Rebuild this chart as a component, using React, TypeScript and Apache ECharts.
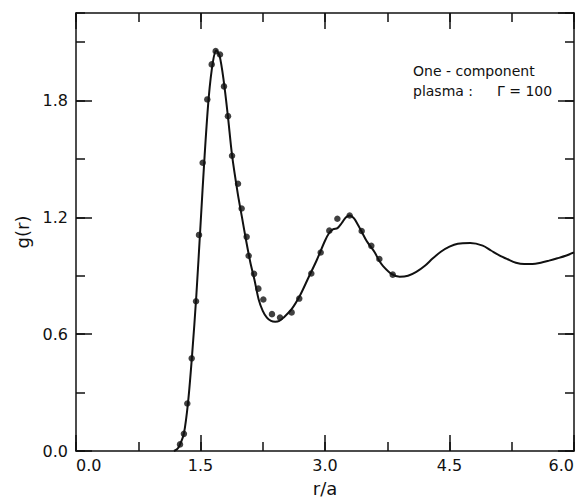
import React, { useEffect, useRef } from "react";
import * as echarts from "echarts";

const curveX = [1.18, 1.22, 1.25, 1.3, 1.35, 1.4, 1.45, 1.5, 1.55, 1.6, 1.65, 1.69, 1.73, 1.78, 1.83, 1.88, 1.95, 2.0, 2.05, 2.1, 2.15, 2.2, 2.25, 2.3, 2.35, 2.4, 2.45, 2.5, 2.6, 2.7, 2.8, 2.9, 3.0, 3.05, 3.1, 3.15, 3.2, 3.25, 3.3, 3.35, 3.4, 3.45, 3.5, 3.55, 3.6, 3.65, 3.7, 3.8, 3.9, 4.0, 4.1, 4.2, 4.3, 4.4, 4.5, 4.6, 4.75, 4.9, 5.0, 5.1, 5.2, 5.3, 5.4, 5.5, 5.6, 5.7, 5.8, 5.9, 6.0];
const curveY = [0.0, 0.01, 0.03, 0.09, 0.25, 0.5, 0.8, 1.16, 1.52, 1.82, 2.0, 2.057, 2.03, 1.9, 1.72, 1.52, 1.32, 1.2, 1.08, 0.97, 0.88, 0.78, 0.72, 0.685, 0.668, 0.664, 0.668, 0.685, 0.73, 0.8, 0.89, 0.98, 1.08, 1.12, 1.14, 1.145, 1.17, 1.2, 1.21, 1.195, 1.16, 1.12, 1.08, 1.05, 1.02, 0.98, 0.95, 0.91, 0.895, 0.9, 0.92, 0.95, 0.99, 1.025, 1.05, 1.065, 1.068, 1.055, 1.03, 1.005, 0.985, 0.967, 0.96, 0.96, 0.967, 0.978, 0.99, 1.003, 1.02];

const dotX = [1.253, 1.3, 1.341, 1.394, 1.446, 1.482, 1.526, 1.582, 1.635, 1.683, 1.735, 1.783, 1.831, 1.88, 1.952, 1.996, 2.056, 2.08, 2.145, 2.197, 2.257, 2.361, 2.458, 2.598, 2.69, 2.835, 2.948, 3.052, 3.149, 3.297, 3.442, 3.558, 3.655, 3.816];
const dotY = [0.034, 0.088, 0.244, 0.476, 0.769, 1.11, 1.481, 1.806, 1.986, 2.054, 2.037, 1.873, 1.72, 1.517, 1.373, 1.246, 1.1, 1.003, 0.91, 0.834, 0.778, 0.703, 0.686, 0.712, 0.783, 0.912, 1.02, 1.132, 1.193, 1.21, 1.13, 1.054, 0.986, 0.906];

const xTickLabels = ["0.0", "1.5", "3.0", "4.5", "6.0"];
const yTickLabels = ["0.0", "0.6", "1.2", "1.8"];

const X_MIN = 0, X_MAX = 6, Y_MIN = 0, Y_MAX = 2.25;
const FONT = "DejaVu Sans";

export default function App() {
  const ref = useRef<HTMLDivElement>(null);
  useEffect(() => {
    if (!ref.current) return;
    const chart = echarts.init(ref.current, undefined, { renderer: "svg" });
    const ls = () => ({ color: "#111", width: 1.5 });
    const mkX = (pos: string, interval: number, len: number, labels: boolean, line: boolean) => ({
      type: "value", position: pos, min: X_MIN, max: X_MAX, interval,
      axisLine: { show: line, onZero: false, lineStyle: ls() },
      axisTick: { show: true, inside: true, length: len, lineStyle: ls() },
      splitLine: { show: false },
      axisLabel: labels ? {
        show: true, color: "#111", fontSize: 16, fontFamily: FONT, margin: 6,
        alignMinLabel: "left", alignMaxLabel: "right",
        formatter: (v: number) => xTickLabels[Math.round(v / 1.5)] ?? "",
      } : { show: false },
      ...(labels ? { name: "r/a", nameLocation: "middle", nameGap: 28, nameTextStyle: { fontSize: 18, fontFamily: FONT, color: "#111" } } : {}),
    });
    const mkY = (pos: string, interval: number, len: number, labels: boolean, line: boolean) => ({
      type: "value", position: pos, min: Y_MIN, max: Y_MAX, interval,
      axisLine: { show: line, onZero: false, lineStyle: ls() },
      axisTick: { show: true, inside: true, length: len, lineStyle: ls() },
      splitLine: { show: false },
      axisLabel: labels ? {
        show: true, color: "#111", fontSize: 16, fontFamily: FONT, margin: 8, showMaxLabel: false,
        formatter: (v: number) => yTickLabels[Math.round(v / 0.6)] ?? "",
      } : { show: false },
      ...(labels ? { name: "g(r)", nameLocation: "middle", nameGap: 37, nameRotate: 90, nameTextStyle: { fontSize: 18, fontFamily: FONT, color: "#111" } } : {}),
    });
    chart.setOption({
      animation: false,
      backgroundColor: "#fff",
      grid: { left: 76, right: 5, top: 13, bottom: 48, containLabel: false },
      xAxis: [
        mkX("bottom", 1.5, 16, true, true),
        mkX("bottom", 0.75, 9, false, false),
        mkX("top", 1.5, 16, false, true),
        mkX("top", 0.75, 9, false, false),
      ],
      yAxis: [
        mkY("left", 0.6, 16, true, true),
        mkY("left", 0.3, 9, false, false),
        mkY("right", 0.6, 16, false, true),
        mkY("right", 0.3, 9, false, false),
      ],
      graphic: [
        { type: "text", left: 413, top: 64, style: { text: "One - component", fontSize: 14, fontFamily: FONT, fill: "#111" } },
        { type: "text", left: 413, top: 84, style: { text: "plasma :", fontSize: 14, fontFamily: FONT, fill: "#111" } },
        { type: "text", left: 497, top: 84, style: { text: "Γ = 100", fontSize: 14, fontFamily: FONT, fill: "#111" } },
      ],
      series: [
        {
          type: "line", xAxisIndex: 0, yAxisIndex: 0, smooth: 0.3, showSymbol: false,
          lineStyle: { color: "#111", width: 2 },
          data: curveX.map((x, i) => [x, curveY[i]]),
        },
        {
          type: "scatter", xAxisIndex: 0, yAxisIndex: 0, symbolSize: 6.5,
          itemStyle: { color: "#111" },
          data: dotX.map((x, i) => [x, dotY[i]]),
        },
      ],
    });
    return () => chart.dispose();
  }, []);
  return <div ref={ref} style={{ position: "absolute", left: 0, top: 0, width: 579, height: 502 }} />;
}
